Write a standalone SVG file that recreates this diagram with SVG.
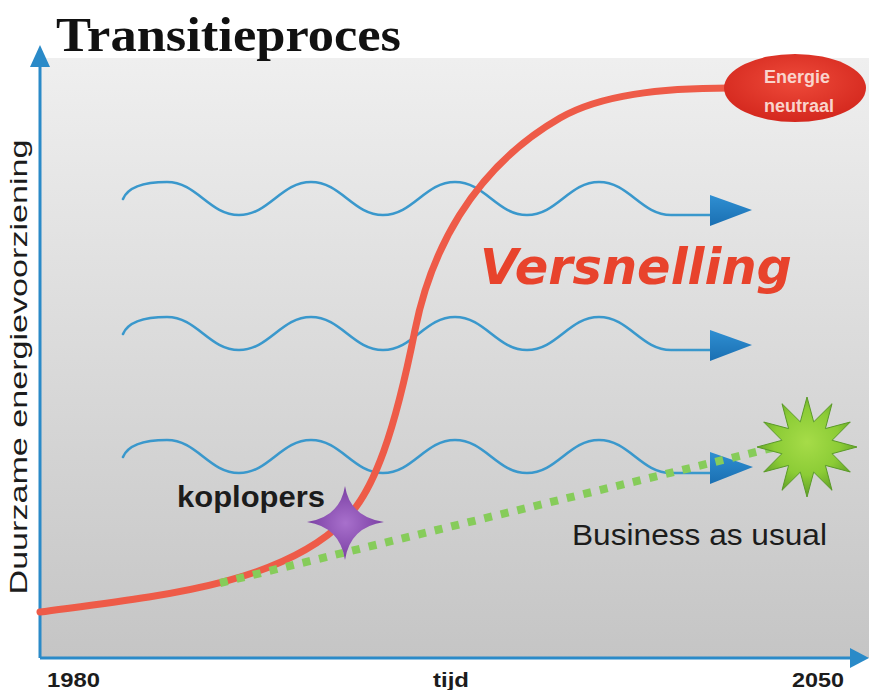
<svg xmlns="http://www.w3.org/2000/svg" width="869" height="690" viewBox="0 0 869 690">
<defs>
<linearGradient id="bg" x1="0" y1="0" x2="0" y2="1">
<stop offset="0" stop-color="#efefef"/>
<stop offset="1" stop-color="#c5c5c5"/>
</linearGradient>
<radialGradient id="ellG" cx="0.5" cy="0.4" r="0.6">
<stop offset="0" stop-color="#ee4a3a"/>
<stop offset="1" stop-color="#d4281e"/>
</radialGradient>
<radialGradient id="starG" cx="0.5" cy="0.5" r="0.5">
<stop offset="0" stop-color="#a870cc"/>
<stop offset="1" stop-color="#7a3fa3"/>
</radialGradient>
<radialGradient id="burstG" cx="0.5" cy="0.45" r="0.55">
<stop offset="0" stop-color="#a6dc48"/>
<stop offset="0.6" stop-color="#8ccc36"/>
<stop offset="1" stop-color="#5f9e26"/>
</radialGradient>
<linearGradient id="arrG" x1="0" y1="0" x2="0" y2="1">
<stop offset="0" stop-color="#2f8fd2"/>
<stop offset="1" stop-color="#1a6fb2"/>
</linearGradient>
<style>
.axis{stroke:#2a8ac8;stroke-width:3;fill:none}
.axhead{fill:#2a8ac8}
.wave{stroke:#3a98cc;stroke-width:2.6;fill:none;stroke-linecap:round}
.warr{fill:url(#arrG)}
.scurve{stroke:#ee5b48;stroke-width:7;fill:none;stroke-linecap:round}
.dots{stroke:#86cc5a;stroke-width:8;fill:none;stroke-dasharray:8 9}
.sans{font-family:"Liberation Sans",Arial,sans-serif;fill:#1c1c1c}
.bold{font-weight:bold}
</style>
</defs>

<rect x="0" y="0" width="869" height="690" fill="#ffffff"/>
<rect id="panel" x="40" y="58" width="829" height="600" fill="url(#bg)"/>

<g id="title">
<text x="56" y="51" font-family="'Liberation Serif','Times New Roman',serif" font-weight="bold" font-size="49" fill="#111" textLength="345" lengthAdjust="spacingAndGlyphs">Transitieproces</text>
</g>

<g id="axes">
<line class="axis" x1="40" y1="658" x2="40" y2="62"/>
<polygon class="axhead" points="30,67 50,67 40,45"/>
<line class="axis" x1="40" y1="658" x2="852" y2="658"/>
<polygon class="axhead" points="850,648 850,668 869,658"/>
<text class="sans" transform="rotate(-90 27 367)" x="27" y="367" font-size="24" text-anchor="middle" textLength="455" lengthAdjust="spacingAndGlyphs">Duurzame energievoorziening</text>
<text class="sans bold" x="47" y="687" font-size="21" textLength="53" lengthAdjust="spacingAndGlyphs">1980</text>
<text class="sans bold" x="433" y="687" font-size="21" textLength="36" lengthAdjust="spacingAndGlyphs">tijd</text>
<text class="sans bold" x="792" y="687" font-size="21" textLength="52" lengthAdjust="spacingAndGlyphs">2050</text>
</g>

<g id="connectors">
<g id="waves">
<path class="wave" d="M123,199 C128,187 145,182 167,182 C197,182 209,215 239,215 C269,215 281,182 311,182 C341,182 353,215 383,215 C413,215 425,182 455,182 C485,182 497,215 527,215 C557,215 569,182 599,182 C629,182 641,215 671,215 L712,215"/>
<polygon class="warr" points="710,195 710,226 752,210"/>
<path class="wave" d="M123,334 C128,322 145,317 167,317 C197,317 209,350 239,350 C269,350 281,317 311,317 C341,317 353,350 383,350 C413,350 425,317 455,317 C485,317 497,350 527,350 C557,350 569,317 599,317 C629,317 641,350 671,350 L712,350"/>
<polygon class="warr" points="710,330 710,361 752,345"/>
<path class="wave" d="M123,457 C128,445 145,440 167,440 C197,440 209,473 239,473 C269,473 281,440 311,440 C341,440 353,473 383,473 C413,473 425,440 455,440 C485,440 497,473 527,473 C557,473 569,440 599,440 C629,440 641,473 671,473 L712,473"/>
<polygon class="warr" points="710,452 710,484 753,467"/>
</g>
<path id="scurve" class="scurve" d="M40,612 C160,596 280,585 345,520 C375,490 395,430 415,330 C430,255 470,170 560,118 C600,95 660,88 730,88"/>
<path id="bau-line" class="dots" d="M220,583 L772,448"/>
</g>

<g id="versnelling">
<text x="480" y="284" font-family="'DejaVu Sans',sans-serif" font-weight="bold" font-style="italic" font-size="50" fill="#e8432c" textLength="312" lengthAdjust="spacingAndGlyphs">Versnelling</text>
</g>

<g id="energie-neutraal">
<ellipse cx="795" cy="88" rx="71" ry="34" fill="url(#ellG)"/>
<text class="bold" x="797" y="83" font-family="'Liberation Sans',Arial,sans-serif" font-size="18" fill="#f9d4cc" text-anchor="middle">Energie</text>
<text class="bold" x="799" y="112" font-family="'Liberation Sans',Arial,sans-serif" font-size="18" fill="#f9d4cc" text-anchor="middle">neutraal</text>
</g>

<g id="koplopers">
<path d="M345,486 Q350,517 384,522 Q350,527 345,560 Q340,527 307,522 Q340,517 345,486 Z" fill="url(#starG)"/>
<text class="sans bold" x="177" y="507" font-size="30" textLength="148" lengthAdjust="spacingAndGlyphs">koplopers</text>
</g>

<g id="business-as-usual">
<polygon points="807,397 813.7,421.9 832,403.7 825.4,428.6 850.3,422 832.1,440.3 857,447 832.1,453.7 850.3,472 825.4,465.4 832,490.3 813.7,472.1 807,497 800.3,472.1 782,490.3 788.6,465.4 763.7,472 781.9,453.7 757,447 781.9,440.3 763.7,422 788.6,428.6 782,403.7 800.3,421.9" fill="url(#burstG)" stroke="#5a9a28" stroke-width="1"/>
<text class="sans" x="572" y="545" font-size="29" textLength="255" lengthAdjust="spacingAndGlyphs">Business as usual</text>
</g>
</svg>
